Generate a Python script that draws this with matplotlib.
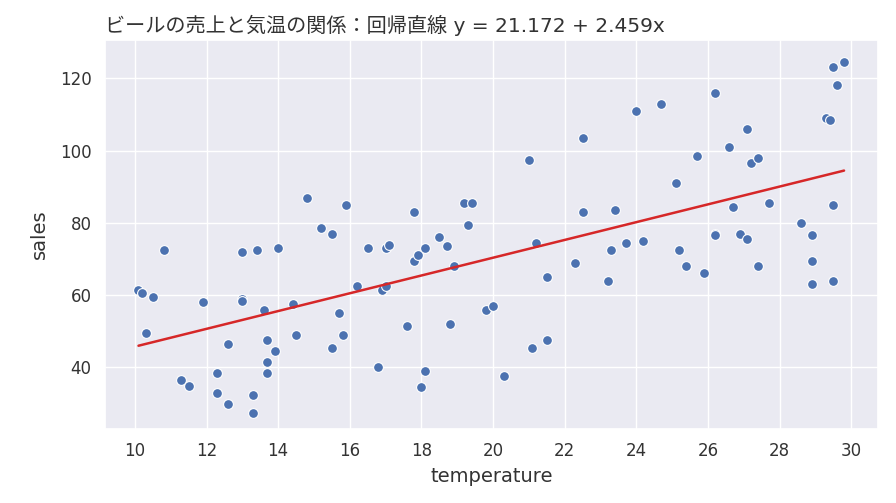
import numpy as np
import matplotlib
matplotlib.use("Agg")
import matplotlib.pyplot as plt
import seaborn as sns

# ===== DATA =====
temperature = [
    10.1, 10.2, 10.5, 10.3, 10.8, 11.3, 11.5, 11.9, 12.3, 12.3,
    12.6, 12.6, 13.0, 13.0, 13.0, 13.3, 13.3, 13.4, 13.6, 13.7,
    13.7, 13.7, 13.9, 14.0, 14.4, 14.5, 14.8, 15.2, 15.5, 15.5,
    15.7, 15.8, 15.9, 16.2, 16.5, 16.8, 16.9, 17.0, 17.0, 17.1,
    17.6, 17.8, 17.8, 17.9, 18.0, 18.1, 18.1, 18.5, 18.7, 18.8,
    18.9, 19.2, 19.3, 19.4, 19.8, 20.0, 20.3, 21.0, 21.1, 21.2,
    21.5, 21.5, 22.3, 22.5, 22.5, 23.2, 23.3, 23.4, 23.7, 24.0,
    24.2, 24.7, 25.1, 25.2, 25.4, 25.7, 25.9, 26.2, 26.2, 26.2,
    26.6, 26.7, 26.9, 27.1, 27.1, 27.2, 27.4, 27.4, 27.7, 28.6,
    28.9, 28.9, 28.9, 29.3, 29.4, 29.5, 29.6, 29.5, 29.5, 29.8,
]
sales = [
    61.5, 60.5, 59.5, 49.5, 72.5, 36.5, 35.0, 58.0, 38.5, 33.0,
    46.5, 30.0, 72.0, 59.0, 58.5, 32.5, 27.5, 72.5, 56.0, 47.5,
    41.5, 38.5, 44.5, 73.0, 57.5, 49.0, 87.0, 78.5, 77.0, 45.5,
    55.0, 49.0, 85.0, 62.5, 73.0, 40.0, 61.5, 62.5, 73.0, 74.0,
    51.5, 83.0, 69.5, 71.0, 34.5, 73.0, 39.0, 76.0, 73.5, 52.0,
    68.0, 85.5, 79.5, 85.5, 56.0, 57.0, 37.5, 97.5, 45.5, 74.5,
    65.0, 47.5, 69.0, 103.5, 83.0, 64.0, 72.5, 83.5, 74.5, 111.0,
    75.0, 113.0, 91.0, 72.5, 68.0, 98.5, 66.0, 116.0, 77.0, 76.5,
    101.0, 84.5, 77.0, 106.0, 75.5, 96.5, 98.0, 68.0, 85.5, 80.0,
    76.5, 69.5, 63.0, 109.0, 108.5, 123.0, 118.0, 85.0, 64.0, 124.5,
]

# regression coefficients shown in the title
intercept = 21.172
slope = 2.459

sns.set_theme()
# Latin in DejaVu (Verdana-like), Japanese falls back to Noto CJK
plt.rcParams['font.family'] = ['DejaVu Sans', 'Noto Sans CJK JP']
plt.rcParams['text.color'] = '#333333'
plt.rcParams['axes.labelcolor'] = '#333333'
plt.rcParams['xtick.color'] = '#333333'
plt.rcParams['ytick.color'] = '#333333'

temperature = np.array(temperature)
sales = np.array(sales)

fig, ax = plt.subplots(figsize=(8.96, 5.03), dpi=100)
fig.subplots_adjust(left=0.117, right=0.98, top=0.92, bottom=0.148)

sns.scatterplot(x=temperature, y=sales, ax=ax, s=50, color='#4c72b0',
                edgecolor='white', linewidth=0.8, zorder=3)

xs = np.array([temperature.min(), temperature.max()])
ax.plot(xs, intercept + slope * xs, color='#d62728', lw=1.8, zorder=4)

ax.set_xlim(9.16, 30.75)
ax.set_ylim(23.1, 130.5)
ax.set_xticks(np.arange(10, 31, 2))
ax.set_yticks(np.arange(40, 121, 20))
ax.tick_params(labelsize=12)
ax.set_xlabel('temperature', fontsize=14, labelpad=5)
ax.set_ylabel('sales', fontsize=14, labelpad=8)
ax.set_title(f'ビールの売上と気温の関係：回帰直線 y = {intercept} + {slope}x',
             loc='left', fontsize=14.5)

fig.savefig('out.png', dpi=100)
